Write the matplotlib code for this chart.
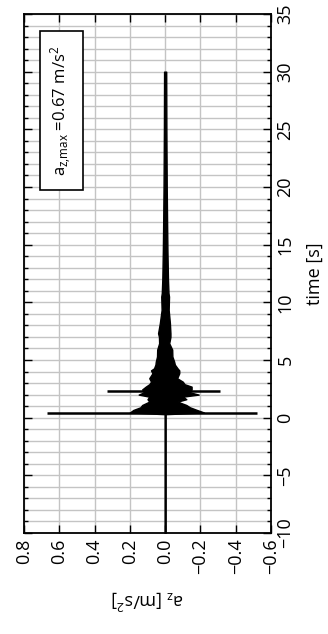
import numpy as np
import matplotlib
matplotlib.use("Agg")
import matplotlib.pyplot as plt
from matplotlib.patches import Rectangle
from matplotlib.ticker import MultipleLocator

plt.rcParams['font.family'] = ['Open Sans', 'DejaVu Sans']
plt.rcParams['mathtext.default'] = 'regular'
plt.rcParams['axes.unicode_minus'] = True

# Vertical acceleration record: envelope of the dense signal (time [s], upper / lower bound [m/s^2])
t_env = [-10.0, 0.30, 0.45, 0.67, 0.90, 1.10, 1.39, 1.60, 1.82, 2.00, 2.20, 2.45,
         2.69, 2.90, 3.12, 3.42, 3.85, 4.10, 4.28, 4.60, 4.86, 5.30, 5.90, 6.45,
         7.00, 7.32, 8.20, 9.34, 10.5, 10.8, 12.0, 14.5, 17.0, 20.0, 25.0, 30.0]
a_upper = [0.003, 0.003, 0.20, 0.18, 0.14, 0.13, 0.09, 0.10, 0.09, 0.15, 0.12, 0.13,
           0.11, 0.09, 0.08, 0.09, 0.072, 0.08, 0.063, 0.055, 0.053, 0.046, 0.045, 0.034,
           0.035, 0.040, 0.030, 0.020, 0.022, 0.019, 0.016, 0.013, 0.011, 0.009, 0.007, 0.006]
a_lower = [-0.003, -0.003, -0.22, -0.18, -0.14, -0.12, -0.07, -0.12, -0.10, -0.19, -0.14, -0.15,
           -0.15, -0.11, -0.10, -0.068, -0.08, -0.08, -0.07, -0.055, -0.051, -0.041, -0.040, -0.023,
           -0.030, -0.030, -0.027, -0.020, -0.022, -0.019, -0.016, -0.013, -0.011, -0.009, -0.007, -0.006]

# Peak swings of the two main shocks
spike_t = [0.41, 2.30]
spike_pos = [0.67, 0.33]
spike_neg = [-0.52, -0.31]

a_max = 0.67

x_ticks = [0.8, 0.6, 0.4, 0.2, 0.0, -0.2, -0.4, -0.6]
t_ticks = [-10, -5, 0, 5, 10, 15, 20, 25, 30, 35]

fig = plt.figure(figsize=(3.28, 6.34), dpi=100)
ax = fig.add_axes([24 / 328, 101 / 634, 247 / 328, 519 / 634])

ax.fill_betweenx(t_env, a_lower, a_upper, facecolor='black', edgecolor='black',
                 linewidth=1.0, zorder=3)
ax.hlines(spike_t, spike_neg, spike_pos, colors='black', linewidth=1.8, zorder=3)

ax.set_xlim(0.8, -0.6)
ax.set_ylim(-10, 35)
ax.set_xticks(x_ticks)
ax.set_xticklabels([f"{v:.1f}".replace('-', '\u2212') if v != 0 else "0.0" for v in x_ticks],
                   rotation=90, fontsize=13)
ax.set_yticks(t_ticks)
ax.set_yticklabels([str(v).replace('-', '\u2212') for v in t_ticks], rotation=90,
                   fontsize=13, va='center')
ax.yaxis.set_minor_locator(MultipleLocator(1))

ax.yaxis.tick_right()
ax.yaxis.set_label_position('right')
ax.tick_params(which='both', direction='in', top=True, bottom=True, left=True, right=True,
               color='black', width=1.0)
ax.tick_params(which='major', length=6, pad=4)
ax.tick_params(which='minor', length=3)

ax.grid(True, which='major', axis='x', color='#c4c4c4', linewidth=1.0, zorder=0)
ax.grid(True, which='both', axis='y', color='#c4c4c4', linewidth=1.0, zorder=0)
ax.set_axisbelow(True)
for s in ax.spines.values():
    s.set_linewidth(1.3)

ax.set_ylabel('time [s]', fontsize=13, rotation=90)
ax.yaxis.set_label_coords(1.142, 0.5)
ax.set_xlabel('a$_z$ [m/s$^2$]', fontsize=13, rotation=180)
ax.xaxis.set_label_coords(0.5, -0.108)

box = Rectangle((0.0648, 0.661), 0.174, 0.306, transform=ax.transAxes,
                facecolor='white', edgecolor='black', linewidth=1.2, zorder=4)
ax.add_patch(box)
ax.text(0.152, 0.814, f'a$_{{z{{,}}max}}$ =${a_max:.2f}$ m/s$^2$', transform=ax.transAxes,
        rotation=90, ha='center', va='center', fontsize=12, zorder=5)

fig.savefig('out.png', dpi=100)
